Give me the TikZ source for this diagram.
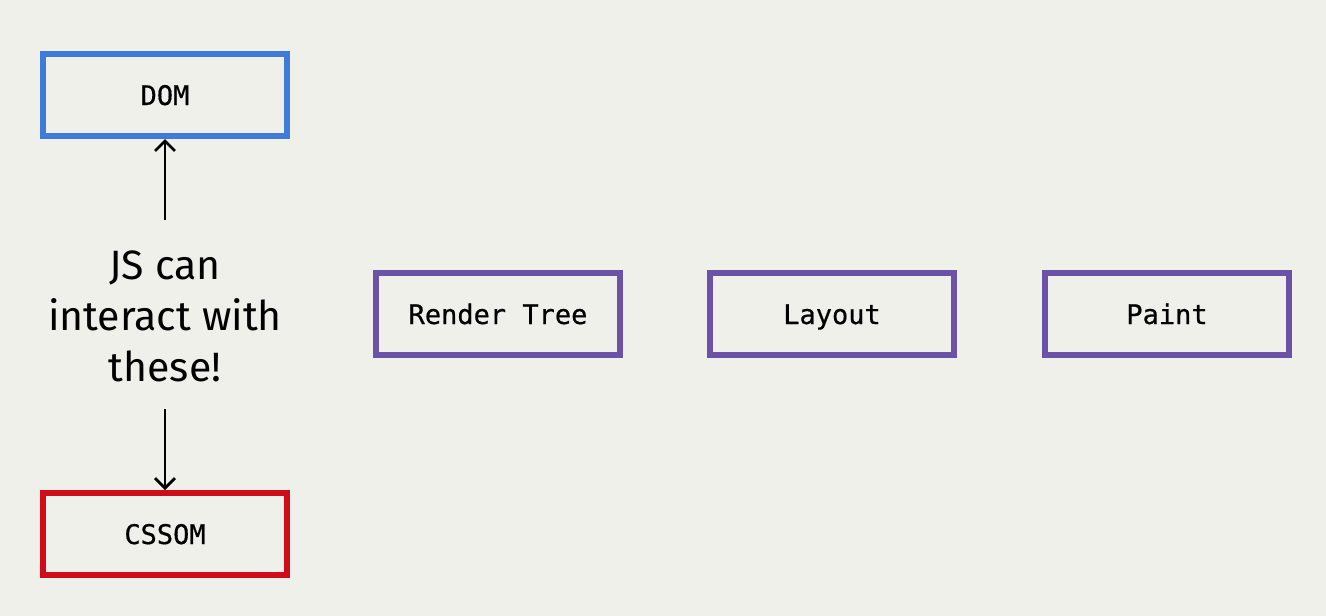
\documentclass[tikz,border=0pt]{standalone}
\usepackage{fontspec}
\setmainfont{Fira Sans}
\newfontfamily\monofont{DejaVu Sans Mono}[FakeBold=0.6]
\usetikzlibrary{arrows.meta}
\definecolor{bg}{HTML}{F0F0EB}
\definecolor{domblue}{HTML}{3F7BD8}
\definecolor{cssred}{HTML}{D00C1A}
\definecolor{rpurple}{HTML}{6A52A6}
\tikzset{
  box/.style={draw, line width=6pt, minimum width=244pt, minimum height=82pt, inner sep=0pt,
    text height=20pt, text depth=0pt,
    font=\monofont\fontsize{27}{32}\selectfont},
  conn/.style={line width=2.8pt, -{Straight Barb[length=10pt,width=20pt,line width=2.8pt]}},
}
\begin{document}
\begin{tikzpicture}[x=1pt,y=-1pt]
\fill[bg] (0,0) rectangle (1326,616);
\useasboundingbox (0,0) rectangle (1326,616);
\node[box, draw=domblue] (dom) at (165,95) {DOM};
\node[box, draw=cssred] (cssom) at (165,534) {CSSOM};
\node[box, draw=rpurple] (render) at (498,314) {Render Tree};
\node[box, draw=rpurple] (layout) at (832,314) {Layout};
\node[box, draw=rpurple] (paint) at (1167,314) {Paint};
\node[align=center, font=\fontsize{41}{51}\selectfont, inner sep=0pt] (js) at (165,316) {JS can\\interact with\\these!};
\coordinate (upstart) at (165,220);
\coordinate (downstart) at (165,409);
\draw[conn] (upstart) -- (dom.south);
\draw[conn] (downstart) -- (cssom.north);
\end{tikzpicture}
\end{document}
